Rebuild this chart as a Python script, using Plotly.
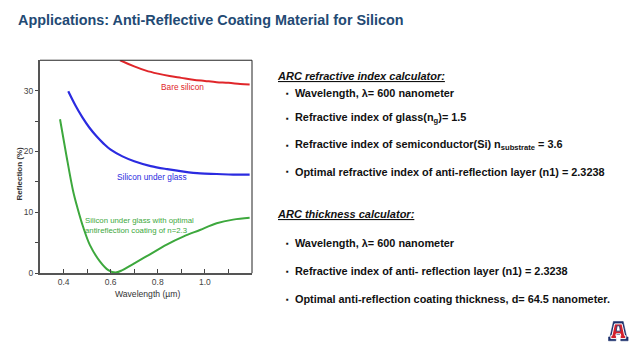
import plotly.graph_objects as go

# ---------------- data ----------------
wl_bare = [0.64, 0.70, 0.75, 0.80, 0.85, 0.90, 0.95, 1.00, 1.05, 1.10, 1.15, 1.19]
r_bare = [35.0, 34.0, 33.3, 32.8, 32.4, 32.1, 31.8, 31.6, 31.4, 31.3, 31.1, 31.0]

wl_glass = [0.42, 0.45, 0.48, 0.51, 0.54, 0.57, 0.60, 0.65, 0.70, 0.77, 0.84, 0.91, 0.98, 1.05, 1.12, 1.19]
r_glass = [29.9, 27.6, 25.6, 23.9, 22.5, 21.3, 20.3, 19.2, 18.4, 17.6, 17.1, 16.7, 16.4, 16.3, 16.2, 16.2]

wl_arc = [0.385, 0.41, 0.44, 0.46, 0.484, 0.512, 0.555, 0.59, 0.62, 0.65, 0.695,
          0.767, 0.838, 0.908, 0.979, 1.05, 1.12, 1.19]
r_arc = [25.3, 19.8, 13.6, 10.6, 7.5, 4.6, 1.9, 0.5, 0.1, 0.5, 1.5,
         3.1, 4.7, 6.0, 7.1, 8.2, 8.8, 9.1]

x_ticks = [0.4, 0.6, 0.8, 1.0]
x_ticktext = ["0.4", "0.6", "0.8", "1.0"]
x_minor = [0.5, 0.7, 0.9, 1.1]
y_ticks = [0, 10, 20, 30]
y_ticktext = ["0", "10", "20", "30"]
y_minor = [5, 15, 25]

title_text = "Applications: Anti-Reflective Coating Material for Silicon"
head1 = "ARC refractive index calculator:"
bullets1 = [
    "Wavelength, <b>λ</b>= 600 nanometer",
    "Refractive index of glass(n<sub>g</sub>)= 1.5",
    "Refractive index of semiconductor(Si) n<sub>substrate</sub> = 3.6",
    "Optimal refractive index of anti-reflection layer (n1) = 2.3238",
]
head2 = "ARC thickness calculator:"
bullets2 = [
    "Wavelength, <b>λ</b>= 600 nanometer",
    "Refractive index of anti- reflection layer (n1) = 2.3238",
    "Optimal anti-reflection coating thickness, d= 64.5 nanometer.",
]

# ---------------- layout helpers ----------------
OFF = 8  # page body margin
W, H = 638 - OFF, 359 - OFF


def px(x):
    return (x - OFF) / W


def py(y):
    return 1 - (y - OFF) / H


FONT = "Liberation Sans, Arial, sans-serif"
RED = "#E0262A"
BLUE = "#2B2BE0"
GREEN = "#3DA83D"

fig = go.Figure()
fig.add_trace(go.Scatter(x=wl_bare, y=r_bare, mode="lines", line=dict(color=RED, width=2, shape="spline"),
                         showlegend=False))
fig.add_trace(go.Scatter(x=wl_glass, y=r_glass, mode="lines", line=dict(color=BLUE, width=2.2, shape="spline"),
                         showlegend=False))
fig.add_trace(go.Scatter(x=wl_arc, y=r_arc, mode="lines", line=dict(color=GREEN, width=2, shape="spline"),
                         showlegend=False))

fig.update_layout(
    width=W, height=H,
    margin=dict(l=0, r=0, t=0, b=0),
    paper_bgcolor="white", plot_bgcolor="white",
    font=dict(family=FONT, color="#222"),
    xaxis=dict(domain=[px(40), px(252)], range=[0.3, 1.2], tickvals=x_ticks, ticktext=x_ticktext,
               ticks="inside", ticklen=4, tickwidth=1.3, tickcolor="#444",
               minor=dict(tickvals=x_minor, ticks="inside", ticklen=4, tickwidth=1.3, tickcolor="#444"),
               showline=True, linewidth=2, linecolor="#555", showgrid=False, zeroline=False,
               tickfont=dict(size=8.5, color="#444"), fixedrange=True),
    yaxis=dict(domain=[py(277), py(61)], range=[0, 35], tickvals=y_ticks, ticktext=y_ticktext,
               ticks="outside", ticklen=3, tickwidth=1.3, tickcolor="#444",
               minor=dict(tickvals=y_minor, ticks="outside", ticklen=3, tickwidth=1.3, tickcolor="#444"),
               showline=True, linewidth=2, linecolor="#555", showgrid=False, zeroline=False,
               tickfont=dict(size=8.5, color="#444"), fixedrange=True),
)

shapes = [
    dict(type="line", xref="x domain", yref="y domain", x0=0, x1=1, y0=1, y1=1,
         line=dict(color="#222", width=1)),
    dict(type="line", xref="x domain", yref="y domain", x0=1, x1=1, y0=0, y1=1,
         line=dict(color="#222", width=1)),
]

# University logo (block A) drawn as paths
LX, LY, LS = 608.5, 326, 0.98
outer = [(5, 0), (15, 0), (18.5, 16), (20, 16), (20, 20), (12.5, 20), (12.5, 16), (13.3, 16),
         (12.8, 13.5), (7.2, 13.5), (6.7, 16), (7.5, 16), (7.5, 20), (0, 20), (0, 16), (1.5, 16)]
inner = [(10 + 0.76 * (a - 10), 10.5 + 0.76 * (b - 10.5)) for a, b in outer]
hole = [(8.8, 4.5), (11.2, 4.5), (12.1, 10), (7.9, 10)]


def path(pts):
    s = ""
    for i, (a, b) in enumerate(pts):
        s += ("M" if i == 0 else "L") + f"{px(LX + a * LS):.5f},{py(LY + b * LS):.5f}"
    return s + "Z"


shapes.append(dict(type="path", xref="paper", yref="paper", path=path(outer),
                   fillcolor="#1B2F6B", line=dict(color="#1B2F6B", width=0.5)))
shapes.append(dict(type="path", xref="paper", yref="paper", path=path(inner),
                   fillcolor="#D4202C", line=dict(color="white", width=1)))
shapes.append(dict(type="path", xref="paper", yref="paper", path=path(hole),
                   fillcolor="white", line=dict(color="#1B2F6B", width=0.8)))
fig.update_layout(shapes=shapes)

ann = []
# title
ann.append(dict(xref="paper", yref="paper", x=px(16), y=py(20.5), xanchor="left", yanchor="middle",
                text=f"<b>{title_text}</b>", showarrow=False,
                font=dict(size=14.4, color="#234A74", family=FONT)))
# axis titles
ann.append(dict(xref="paper", yref="paper", x=px(147), y=py(298), xanchor="center", yanchor="middle",
                text="Wavelength (µm)", showarrow=False, font=dict(size=8.6, color="#333", family=FONT)))
ann.append(dict(xref="paper", yref="paper", x=px(20), y=py(176), xanchor="center", yanchor="middle",
                text="<b>Reflection (%)</b>", textangle=-90, showarrow=False,
                font=dict(size=8, color="#333", family=FONT)))
# curve labels
ann.append(dict(xref="x", yref="y", x=0.907, y=30.6, text="Bare silicon", showarrow=False,
                font=dict(size=8.3, color=RED, family=FONT)))
ann.append(dict(xref="x", yref="y", x=0.774, y=15.8, text="Silicon under glass", showarrow=False,
                font=dict(size=8.3, color=BLUE, family=FONT)))
ann.append(dict(xref="x", yref="y", x=0.484, y=7.9, xanchor="left", align="left",
                text="Silicon under glass with optimal<br>antireflection coating of n=2.3", showarrow=False,
                font=dict(size=7.8, color=GREEN, family=FONT)))


# right side text
def heading(txt, y):
    ann.append(dict(xref="paper", yref="paper", x=px(275), y=py(y), xanchor="left", yanchor="middle",
                    text=f"<b><i><u>{txt}</u></i></b>", showarrow=False,
                    font=dict(size=11, color="#111", family=FONT)))


def bullet(txt, y):
    ann.append(dict(xref="paper", yref="paper", x=px(283.5), y=py(y), xanchor="left", yanchor="middle",
                    text="▪", showarrow=False, font=dict(size=8, color="#111", family=FONT)))
    ann.append(dict(xref="paper", yref="paper", x=px(292.5), y=py(y), xanchor="left", yanchor="middle",
                    text=f"<b>{txt}</b>", showarrow=False, font=dict(size=10.9, color="#111", family=FONT)))


heading(head1, 76.7)
for t, y in zip(bullets1, [94.3, 120, 147.3, 174]):
    bullet(t, y)
heading(head2, 216.7)
for t, y in zip(bullets2, [246.7, 275, 303.3]):
    bullet(t, y)

fig.update_layout(annotations=ann)
fig.write_html("out.html")
